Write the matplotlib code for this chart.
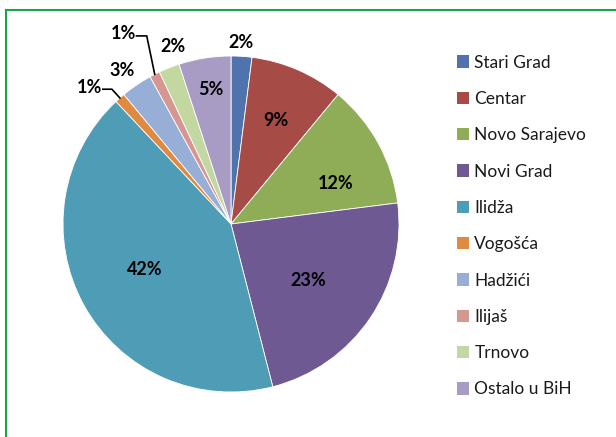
import numpy as np
import matplotlib
matplotlib.use("Agg")
import matplotlib.pyplot as plt
from matplotlib.patches import Patch, Rectangle

# Data
districts = ['Stari Grad', 'Centar', 'Novo Sarajevo', 'Novi Grad', 'Ilidža',
             'Vogošća', 'Hadžići', 'Ilijaš', 'Trnovo', 'Ostalo u BiH']
shares = [2, 9, 12, 23, 42, 1, 3, 1, 2, 5]
colors = ['#4F73AC', '#A64B45', '#8FAD57', '#6E5993', '#4E9CB5',
          '#E08A40', '#97AFD6', '#D69692', '#C3D7A0', '#A99CC4']

# label placement: radius factor and angle tweak (deg) for each slice
label_r = [1.08, 0.67, 0.67, 0.57, 0.58, 1.17, 1.12, 1.30, 1.11, 0.81]
label_dang = [0.5, 0, -7.5, -2.3, -0.7, 4.5, 1.3, 2.5, -3.5, -0.6]
leader = [False, False, False, False, False, True, False, True, False, False]

W, H = 616, 437
fig = plt.figure(figsize=(W / 100, H / 100), dpi=100)
ax = fig.add_axes([0, 0, 1, 1])

cx, cy, R = 231, H - 224, 168

wedges, _ = ax.pie(shares, colors=colors, startangle=90, counterclock=False,
                   center=(cx, cy), radius=R, frame=True,
                   wedgeprops=dict(edgecolor='white', linewidth=0.6))
ax.set_xlim(0, W)
ax.set_ylim(0, H)
ax.axis('off')

lab_font = dict(family=['Lato', 'DejaVu Sans'], fontsize=13, fontweight='bold',
                color='black')
for w, v, rf, da, ld in zip(wedges, shares, label_r, label_dang, leader):
    mid = 0.5 * (w.theta1 + w.theta2)
    ang = np.deg2rad(mid + da)
    tx = cx + rf * R * np.cos(ang)
    ty = cy + rf * R * np.sin(ang)
    ax.text(tx, ty, f"{v}%", ha='center', va='center', **lab_font)
    if ld:
        a0 = np.deg2rad(mid)
        ex = cx + R * np.cos(a0)
        ey = cy + R * np.sin(a0)
        ax.plot([tx + 13, ex - 8, ex], [ty - 2, ty - 2, ey],
                color='black', lw=1.2, solid_joinstyle='miter')

# legend
handles = [Patch(facecolor=c, edgecolor='none') for c in colors]
leg = ax.legend(handles, districts, loc='upper left',
                bbox_to_anchor=(448 / W, 1 - 46 / H), frameon=False,
                prop=dict(family=['Lato', 'DejaVu Sans'], size=12.5),
                handlelength=0.72, handleheight=0.72, handletextpad=0.3,
                labelspacing=1.17, borderpad=0)
for t in leg.get_texts():
    t.set_color('#1a1a1a')

# green frame (runs off the right and bottom edges)
fig.patches.append(Rectangle((6 / W, -0.1), 1.2, 1 - 10 / H + 0.1,
                             transform=fig.transFigure, fill=False,
                             edgecolor='#1BA34A', linewidth=1.5))

fig.savefig('out.png', dpi=100)
